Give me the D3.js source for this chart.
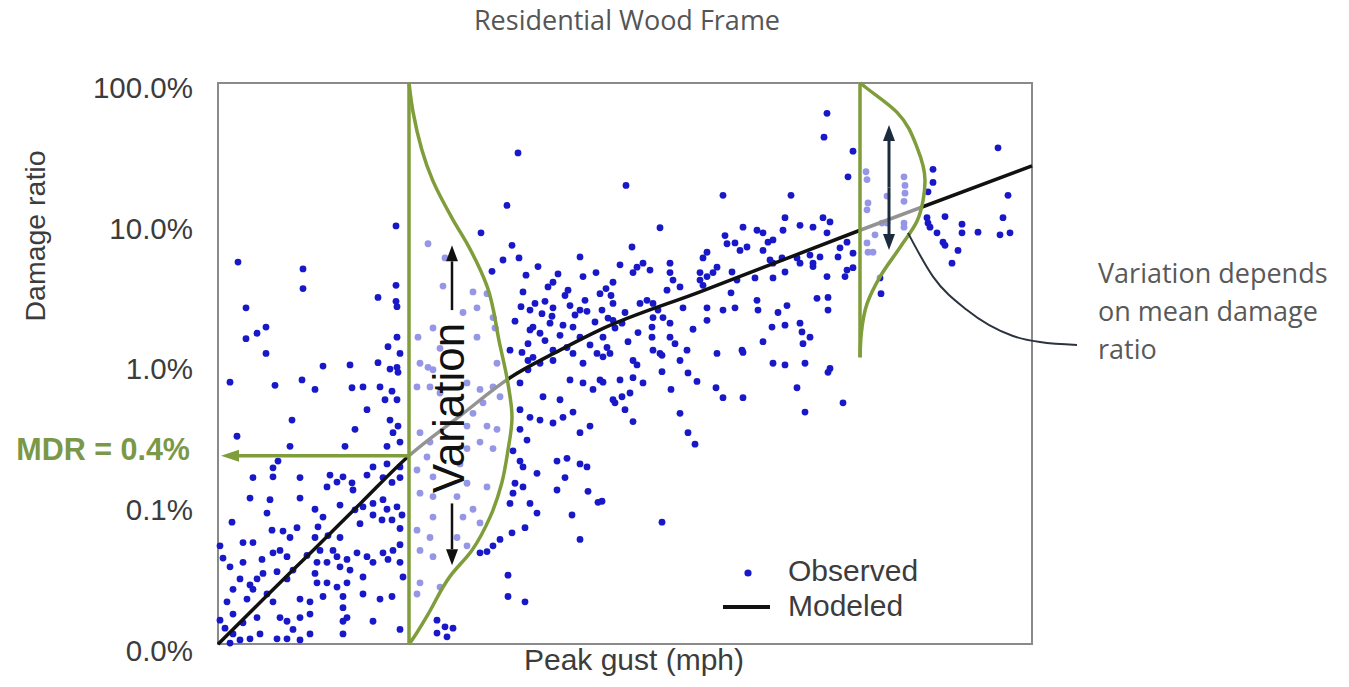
<!DOCTYPE html>
<html><head><meta charset="utf-8">
<script src="https://cdn.jsdelivr.net/npm/d3@7"></script>
<style>body{margin:0;background:#fff}</style>
</head><body><svg id="chart" width="1349" height="687"></svg>
<script>
// ---------- data ----------
const title = "Residential Wood Frame";
const xLabel = "Peak gust (mph)";
const yLabel = "Damage ratio";
const yTickValues = [100, 10, 1, 0.1, 0.01];
const yTickLabels = ["100.0%", "10.0%", "1.0%", "0.1%", "0.0%"];
const legendLabels = ["Observed", "Modeled"];

// observed points: [peak gust (mph), damage ratio (%)]
const observed = [
[100,34],[97.8,14.4],[92.6,9.2],[75.6,10.3],[98.8,7.5],[97,5.9],[100.2,6.1],[94.8,4.9],[112.4,6.2],[101,3.5],[107,4.1],[119,4.1],[116.4,3.4],[44,5.7],[57,5.1],[57,3.7],[45.6,2.7],[75.6,3.9],[72,3.2],[75.6,3.0],[75.8,2.75],[45.6,1.63],[47.8,1.78],[49.6,1.97],[49.6,1.28],[61,1.04],[66.4,1.06],[72,1.1],[75.8,1.67],[74,1.43],[76.4,1.28],[75.8,1.02],
[82,7.7],[85.4,6.1],[85,3.85],[89,2.5],[91.8,2.7],[91,3.5],[80,1.67],[83,1.94],[84.4,1.39],[91.8,1.67],[80.4,1.09],[82,1.02],[95.8,1.09],
[99.4,2.17],[103,1.97],[104.4,1.78],[106.4,2.1],[107,2.7],[109,2.03],[111,1.97],[112.4,2.6],[112.4,1.67],[109.8,1.41],[111,1.28],[115.8,1.28],[117,1.67],[119,2.2],[118.4,1.28],[102,1.5],[100.8,1.3],[98.4,1.35],[102,1.14],[104.4,1.09],[107,1.14],[113,1.09],[107,1.35],[95,2.3],[95.4,1.94],
[161.8,65],[161.2,44],[167,35],[166,23],[121.6,20],[141,17],[154.6,17],[128.4,10],[122.8,7.3],[196,37],[183,26],[183,21],[182,18],[198,17],[185.4,12],[181.8,11.8],[182,10.8],[182.4,10.1],[183.8,9.2],[185,7.9],[185.4,7.5],[188.8,10.6],[188.8,9.2],[192,9.3],[197,11.8],[196.4,8.9],[198.4,9.2],[188,6.9],[186.8,5.6],
[169.6,25],[169.8,22],[170,15],[169.8,13.4],[173.8,16.8],[177.2,23],[177.4,20],[177.4,17.6],[177.2,15.4],[172.8,10.8],[173.8,10.8],[177.2,10.8],[177.2,10.1],[171.4,8.9],[169.8,7.8],[171,6.7],[170,6.7],[172.4,4.4],[172.6,3.4],
[161,11.8],[162.4,11],[159,10.1],[161.8,9.2],[156.4,10.4],[153.4,11.8],[153,9.6],[151,8.2],[150,7.9],[149,9.2],[147.8,9.6],[145,10.1],[141.4,8.8],[141.8,7.7],[143.4,7.8],[144.4,6.9],[145.8,7.3],[149,6.9],[150.4,5.9],[151,5.6],[152.8,6.1],[155.8,6.1],[156.4,5.6],[158.4,6.4],[159,5.6],[160.4,6.2],[165.8,7.9],[164.4,7.2],[167,6.6],[164,6.2],[165.8,5.0],[165.4,4.5],[167,5.2],[161.8,4.5],[159,5.3],[153.4,4.85],[151,4.4],[147.4,4.4],[143.8,4.25],[142.8,4.85],[139.8,5.25],[139,4.8],[137,6.1],[137.8,6.7],[136.4,4.8],[136.4,4.25],[137.8,4.5],[137,3.9],[130.4,5.6],[130.4,4.8],[131,4.25],[132.4,3.8],[129.8,3.6],[126.4,5.0],[125,5.6],[123.8,5.25],[123,4.8],[120.4,5.45],
[125.8,3.05],[127,2.9],[128,2.6],[127,2.3],[124.4,2.9],[119,2.9],[118,2.28],[120.8,2.1],[119.4,1.94],[126.8,1.97],[126.8,1.67],[130.4,2.1],[130.4,1.67],[127,1.35],[128.4,1.28],[133.8,1.35],[132.4,1.14],[123,1.14],[123.8,1.06],[117.8,1.41],[117,1.21],[137.8,2.7],[137.8,2.2],[139.8,1.28],[141,2.6],[143.4,2.7],[142.6,3.45],[144.8,1.35],[147.8,3.05],[148,2.6],[150.8,1.97],[153.4,2.03],[156.4,2.1],[156.8,1.82],[157,1.5],[158.4,1.67],[149,1.55],[152,2.5],[153.8,2.8],[159.8,3.15],[162,3.2],[162,2.6],[151,1.09],[153.4,1.06],[157.4,1.09],[162.4,1.0],
[128.8,1.24],[145,1.3],[162,0.94],[155.8,0.73],[157.4,0.49],[165,0.57],[139.6,0.73],[141,0.62],[145,0.62],[134,0.93],[135.8,0.81],[128.8,0.95],[125,0.79],[123,0.86],[120.4,0.83],[117,0.8],[122.4,0.67],[120.8,0.63],[119.4,0.57],[121.4,0.51],[123,0.42],[130.6,0.71],[132.4,0.48],[134,0.35],[135.4,0.29],[116.8,0.114],[128.8,0.081],
[42.4,0.8],[51.4,0.76],[56.8,0.83],[59.4,0.71],[66.8,0.73],[69,0.74],[72.4,0.74],[74.4,0.99],[76,0.94],[74.8,0.69],[73.4,0.6],[75.8,0.6],[69.8,0.51],[54.8,0.43],[67.4,0.37],[74.4,0.43],[76,0.39],[75,0.35],[43.8,0.33],[54.4,0.28],[65.4,0.28],[73.8,0.28],[76.4,0.3],[52,0.22],[71,0.2],[73.8,0.21],[76.4,0.2],[51,0.197],[51,0.17],[47,0.168],[56.4,0.168],[62.4,0.175],[63.8,0.156],[61.8,0.144],[65,0.17],[66.8,0.154],[67,0.137],[69.8,0.175],[73,0.168],[76.4,0.168],[74.8,0.155],
[46.4,0.12],[50.4,0.117],[56.4,0.12],[59.4,0.1],[61,0.088],[60,0.075],[64.4,0.107],[67.4,0.099],[69,0.104],[71,0.11],[73,0.117],[73.8,0.1],[75.8,0.104],[76.8,0.091],[76.4,0.073],[74.8,0.084],[72.8,0.084],[71,0.091],[68.4,0.079],[64.4,0.063],[62,0.065],[59.4,0.063],[55.8,0.074],[54.4,0.063],[53,0.07],[50.8,0.071],[42.8,0.081],[49.8,0.094],[45,0.058],[47,0.058],[40.4,0.055],[41,0.045],[42.4,0.039],[45,0.042],[48.8,0.044],[51,0.049],[52.4,0.051],[53.8,0.046],[55,0.037],[53.8,0.032],[51.8,0.036],[49,0.035],[47.8,0.032],[46.4,0.029],[44.4,0.032],[43,0.027],[41.8,0.022],[43,0.018],[45.8,0.023],[47,0.027],[49.8,0.025],[51,0.022],[52.4,0.017],[53.8,0.016],[56.4,0.023],[58.4,0.022],[58.4,0.018],[56.4,0.017],[59.8,0.03],[59.4,0.035],[61.8,0.042],[59.8,0.042],[57.8,0.047],[60.4,0.051],[63,0.051],[63.8,0.046],[64.4,0.039],[65.8,0.044],[66.4,0.037],[67.8,0.049],[69.8,0.046],[71,0.042],[69,0.033],[65.8,0.03],[65,0.024],[63.8,0.028],[61.8,0.03],[61,0.024],[65,0.02],[65.8,0.017],[65,0.016],[69,0.025],[72.4,0.023],[74.8,0.024],[77,0.033],[76.4,0.042],[74,0.044],[75,0.051],[73,0.049],[76.4,0.056],[71,0.016],[76.4,0.014],[65,0.013],[58.4,0.013],[55,0.014],[53.8,0.012],[56.4,0.0118],[51.8,0.012],[48.4,0.013],[46.4,0.012],[44.4,0.0118],[43,0.013],[41.4,0.0143],[40.4,0.0163],[42.4,0.0112],[47.8,0.017],[45,0.0156],
[100.4,0.79],[102,0.98],[103,1.2],[105,0.63],[108.4,0.6],[110.4,0.83],[113,0.79],[115,0.71],[116.4,0.83],[119,0.6],[100.4,0.51],[102.4,0.45],[104.4,0.43],[107,0.41],[109,0.45],[111,0.49],[114.4,0.39],[112.4,0.35],[100.4,0.37],[101.8,0.31],[99,0.26],[100.4,0.22],[101,0.2],[103.8,0.18],[107.8,0.22],[109.8,0.23],[112.4,0.21],[113.8,0.2],[109.4,0.168],[107.8,0.137],[114,0.134],[116,0.112],[99.4,0.153],[99,0.13],[98.4,0.11],[101,0.144],[102.4,0.11],[103.8,0.094],[110.8,0.091],[101.4,0.074],[98.8,0.068],[96.4,0.061],[95,0.055],[93.8,0.05],[92.4,0.049],[112.4,0.061],[98,0.034],[98,0.024],[101.4,0.022],[83.8,0.0163],[85.4,0.0146],[87,0.0143],[83.8,0.0132],[85.8,0.0124],
[83,0.98],[79.8,0.74],[82.4,0.74],[84.4,0.67],[89.8,0.79],[92.4,0.71],[95,0.74],[96.4,0.63],[93,0.57],[91,0.48],[89.8,0.39],[93.8,0.39],[95.8,0.37],[92.4,0.3],[95,0.27],[89.8,0.27],[88.4,0.21],[82.4,0.3],[80.4,0.35],[81.8,0.235],[79.8,0.19],[83,0.17],[80.4,0.13],[83,0.123],[87.8,0.123],[89.8,0.153],[93.8,0.144],[91,0.1],[92.4,0.08],[89,0.088],[83,0.088],[79.8,0.071],[82.4,0.063],[87.8,0.063],[89.8,0.055],[80.4,0.051],[83,0.046],[80.4,0.03],[84.4,0.028],[79.8,0.025],
[93.8,3.4],[102.4,1.88],[105.4,1.58],[108.4,1.72],[114.4,1.47],[111.4,2.4],[115.4,2.14],[105.4,3.0],[109.4,3.3],[113.4,3.05],[102.4,2.6],
[101.6,4.6],[104,5.3],[106,3.8],[108,4.7],[110,3.6],[113,4.5],[115.6,4.8],[117.6,3.7],[103.4,2.9],[106.8,2.35],[110.4,2.8],[113.8,2.55],[116.8,2.6],[118.6,3.3],[100.6,2.75],[104.8,2.45],
[121.4,2.5],[124,1.8],[129,2.3],[133,2.7],[135,1.9],[131.4,1.5],[122,1.55]
];

// modeled mean damage ratio curve
const modelGust  = [40, 49.5, 59.1, 68.6, 78.2, 88.4, 98.4, 108.4, 116.4, 136.4, 168.4, 202.8];
const modelRatio = [0.011, 0.0238, 0.0514, 0.111, 0.24, 0.46, 0.86, 1.35, 1.88, 3.5, 9.6, 27.5];

// MDR annotation
const mdrGust = 78.2;
const mdrRatio = 0.24;
const mdrLabel = "MDR = 0.4%";

// distribution at low gust (relative density vs damage ratio)
const pdf1Gust = 78.2;
const pdf1Ratio   = [107, 66, 21.7, 11.3, 7.8, 3.8, 1.5, 0.79, 0.45, 0.26, 0.153, 0.089, 0.051, 0.0335, 0.0172, 0.0118, 0.011];
const pdf1Density = [0, 0.04, 0.23, 0.43, 0.56, 0.76, 0.88, 0.96, 1.0, 0.96, 0.90, 0.79, 0.61, 0.40, 0.17, 0.03, 0];

// distribution at high gust
const pdf2Gust = 168.4;
const pdf2Ratio   = [107, 100, 66, 37, 21.7, 15.6, 11.2, 7.3, 4.5, 2.9, 1.78, 1.2];
const pdf2Density = [0, 0.08, 0.57, 0.88, 1.0, 0.97, 0.88, 0.62, 0.31, 0.11, 0.02, 0];

// variation arrows
const variationGust = 86.8;
const variationUp = [2.6, 7.5];
const variationDown = [0.11, 0.040];
const variationLabel = "Variation";
const spreadGust = 174.2;
const spreadRange = [53.7, 6.95];

// callout
const calloutGust  = [178, 183, 189.8, 199, 204.4, 211.8];
const calloutRatio = [9.2, 4.5, 2.6, 1.70, 1.54, 1.47];
const calloutLines = ["Variation depends", "on mean damage", "ratio"];

// ---------- drawing ----------
const svg = d3.select("#chart");
const W = 1349, H = 687;
const pL = 218, pR = 1032, pT = 83, pB = 644;
const x = d3.scaleLinear().domain([40, 202.8]).range([pL, pR]);
const y = d3.scaleLog().domain([0.01, 100]).range([650, 87]);
const pdf1Width = 20.6, pdf2Width = 13; // mph width of density peak

const green = "#7f9d3a";
const blue = "#1818c8";
const sans = "'Liberation Sans', Arial, sans-serif";
const calib = "'Open Sans', sans-serif";

svg.append("rect").attr("width", W).attr("height", H).attr("fill", "#fff");

// title
svg.append("text").attr("x", 627).attr("y", 30).attr("text-anchor", "middle")
  .attr("font-family", calib).attr("font-size", 27).attr("fill", "#555").text(title);

// frame
svg.append("rect").attr("x", pL).attr("y", pT).attr("width", pR - pL).attr("height", pB - pT)
  .attr("fill", "none").attr("stroke", "#8a8a8a").attr("stroke-width", 2);

// y axis
const yAxis = d3.axisLeft(y).tickValues(yTickValues).tickFormat((d, i) => yTickLabels[i]).tickSize(0).tickPadding(0);
const gy = svg.append("g").attr("transform", "translate(193,0)").call(yAxis);
gy.select(".domain").remove();
gy.selectAll("text").attr("font-family", sans).attr("font-size", 29.5).attr("fill", "#3c3c3c").attr("dy", "0.35em");

// axis labels
svg.append("text").attr("transform", "translate(45,236) rotate(-90)").attr("text-anchor", "middle")
  .attr("font-family", sans).attr("font-size", 28.5).attr("fill", "#3c3c3c").text(yLabel);
svg.append("text").attr("x", 634).attr("y", 670).attr("text-anchor", "middle")
  .attr("font-family", sans).attr("font-size", 30).attr("fill", "#3c3c3c").text(xLabel);

// points
svg.append("g").selectAll("circle").data(observed).join("circle")
  .attr("cx", d => x(d[0])).attr("cy", d => y(d[1])).attr("r", 3.4).attr("fill", blue);

// model line
const modelData = modelGust.map((g, i) => [g, modelRatio[i]]);
svg.append("path").datum(modelData)
  .attr("d", d3.line().x(d => x(d[0])).y(d => y(d[1])).curve(d3.curveMonotoneX))
  .attr("fill", "none").attr("stroke", "#111").attr("stroke-width", 3.5);

// pdf overlays
function drawPdf(gust, ratios, dens, width) {
  const data = ratios.map((r, i) => [r, dens[i]]);
  svg.append("path").datum(data)
    .attr("d", d3.area().y(d => y(d[0])).x0(x(gust)).x1(d => x(gust + d[1] * width)).curve(d3.curveMonotoneY))
    .attr("fill", "#fff").attr("fill-opacity", 0.55);
  svg.append("line").attr("x1", x(gust)).attr("x2", x(gust))
    .attr("y1", y(ratios[0])).attr("y2", y(ratios[ratios.length - 1]))
    .attr("stroke", green).attr("stroke-width", 3.5);
  svg.append("path").datum(data)
    .attr("d", d3.line().y(d => y(d[0])).x(d => x(gust + d[1] * width)).curve(d3.curveMonotoneY))
    .attr("fill", "none").attr("stroke", green).attr("stroke-width", 3.5);
}
drawPdf(pdf1Gust, pdf1Ratio, pdf1Density, pdf1Width);
drawPdf(pdf2Gust, pdf2Ratio, pdf2Density, pdf2Width);

// arrow helper (tip at x2,y2)
function arrow(x1, y1, x2, y2, color, w, headL, headW) {
  const ang = Math.atan2(y2 - y1, x2 - x1);
  const bx = x2 - headL * Math.cos(ang), by = y2 - headL * Math.sin(ang);
  svg.append("line").attr("x1", x1).attr("y1", y1).attr("x2", bx).attr("y2", by)
    .attr("stroke", color).attr("stroke-width", w);
  const px = -Math.sin(ang) * headW, py = Math.cos(ang) * headW;
  svg.append("path").attr("d", `M${x2},${y2}L${bx + px},${by + py}L${bx - px},${by - py}Z`).attr("fill", color);
}

// MDR arrow
arrow(x(mdrGust), y(mdrRatio), pL + 3, y(mdrRatio), green, 3.5, 18, 6);
svg.append("text").attr("x", 190).attr("y", y(mdrRatio) + 4).attr("text-anchor", "end")
  .attr("font-family", sans).attr("font-weight", "bold").attr("font-size", 30.5).attr("fill", "#7a9848").text(mdrLabel);

// variation arrows
arrow(x(variationGust), y(variationUp[0]), x(variationGust), y(variationUp[1]), "#111", 2.5, 16, 6);
arrow(x(variationGust), y(variationDown[0]), x(variationGust), y(variationDown[1]), "#111", 2.5, 16, 6);
svg.append("text").attr("transform", `translate(${x(variationGust) + 12},408) rotate(-90)`).attr("text-anchor", "middle")
  .attr("font-family", sans).attr("font-size", 44).attr("fill", "#111").text(variationLabel);

// double arrow
const sMid = (y(spreadRange[0]) + y(spreadRange[1])) / 2;
arrow(x(spreadGust), sMid, x(spreadGust), y(spreadRange[0]), "#1c2b3e", 3, 16, 6);
arrow(x(spreadGust), sMid, x(spreadGust), y(spreadRange[1]), "#1c2b3e", 3, 16, 6);

// callout line
const calloutData = calloutGust.map((g, i) => [g, calloutRatio[i]]);
svg.append("path").datum(calloutData)
  .attr("d", d3.line().x(d => x(d[0])).y(d => y(d[1])).curve(d3.curveMonotoneX))
  .attr("fill", "none").attr("stroke", "#2a3440").attr("stroke-width", 2);

svg.append("g").selectAll("text").data(calloutLines).join("text")
  .attr("x", 1098).attr("y", (d, i) => 283 + i * 38)
  .attr("font-family", calib).attr("font-size", 27).attr("fill", "#595959").text(d => d);

// legend
svg.append("circle").attr("cx", 748).attr("cy", 573).attr("r", 3.6).attr("fill", blue);
svg.append("text").attr("x", 788).attr("y", 581).attr("font-family", sans).attr("font-size", 30).attr("fill", "#3c3c3c").text(legendLabels[0]);
svg.append("line").attr("x1", 723).attr("x2", 770).attr("y1", 607).attr("y2", 607).attr("stroke", "#111").attr("stroke-width", 4);
svg.append("text").attr("x", 788).attr("y", 616).attr("font-family", sans).attr("font-size", 30).attr("fill", "#3c3c3c").text(legendLabels[1]);
</script></body></html>
